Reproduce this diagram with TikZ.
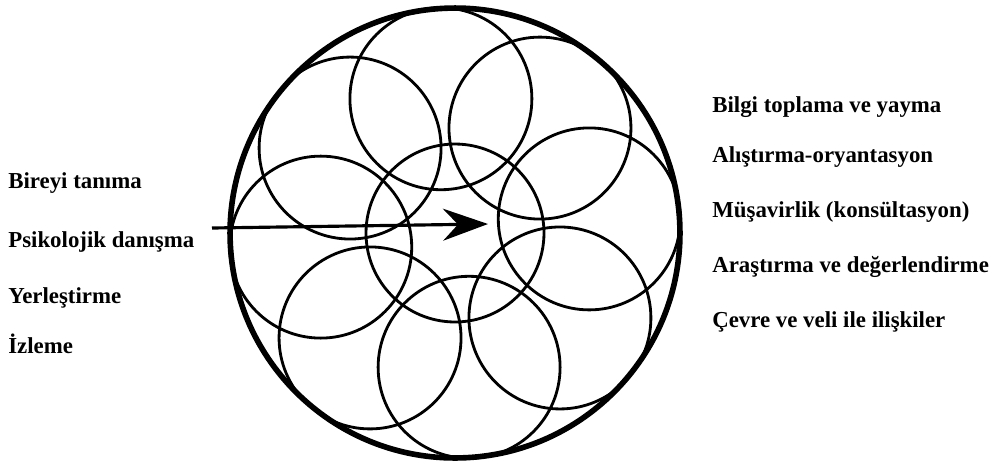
\documentclass[tikz,border=0pt]{standalone}
\usepackage{fontspec}
\setmainfont{Liberation Serif}
\usetikzlibrary{arrows.meta,positioning}

\begin{document}
\begin{tikzpicture}[x=0.02cm, y=-0.02cm,
  ring/.style={draw=black, line width=1.6pt},
  rim/.style={draw=black, line width=3.2pt},
  lbl/.style={anchor=base west, inner sep=0pt, font=\fontsize{13}{15}\selectfont\bfseries}]
\useasboundingbox (0,0) rectangle (993,461);
\coordinate (o) at (455,233);
% outer rim and the nine rings
\draw[rim] (o) circle[radius=4.5cm];
\draw[ring] (o) circle[radius=1.78cm];
\foreach \a in {6,51,...,321}
  \draw[ring, shift={(o)}] ({-\a}:135) circle[radius=1.82cm];
% arrow into the centre
\coordinate (from) at (212,228);
\coordinate (to) at (488,224);
\draw[-{Stealth[length=0.9cm, width=0.64cm, inset=0.3cm]}, line width=1.8pt] (from) -- (to);
% left labels
\node[lbl] (l1) at (8,188) {Bireyi tanıma};
\node[lbl] (l2) at (8,247) {Psikolojik danışma};
\node[lbl] (l3) at (8,303) {Yerleştirme};
\node[lbl] (l4) at (8,353) {İzleme};
% right labels
\node[lbl] (r1) at (712,112) {Bilgi toplama ve yayma};
\node[lbl] (r2) at (712,162) {Alıştırma-oryantasyon};
\node[lbl] (r3) at (712,217) {Müşavirlik (konsültasyon)};
\node[lbl] (r4) at (712,272) {Araştırma ve değerlendirme};
\node[lbl] (r5) at (712,327) {Çevre ve veli ile ilişkiler};
\end{tikzpicture}
\end{document}
